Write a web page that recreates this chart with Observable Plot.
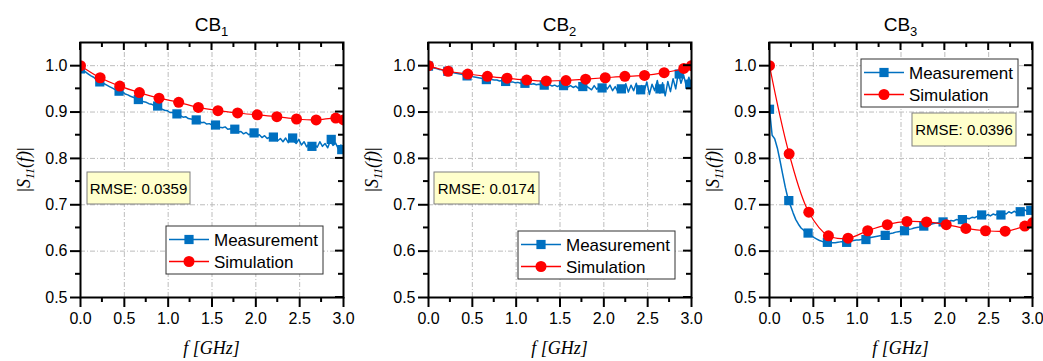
<!DOCTYPE html>
<html><head><meta charset="utf-8">
<script src="https://cdn.jsdelivr.net/npm/d3@7"></script>
<script src="https://cdn.jsdelivr.net/npm/@observablehq/plot@0.6"></script>
<style>
body{margin:0;background:#fff;}
#chart{position:relative;width:1043px;height:361px;overflow:hidden;background:#fff;}
#chart svg{position:absolute;top:0;}
</style></head><body><div id="chart"></div>
<script>
// ---------- data ----------
const panelTitles = ["CB", "CB", "CB"];
const panelSubs = ["1", "2", "3"];
const rmseLabels = ["RMSE: 0.0359", "RMSE: 0.0174", "RMSE: 0.0396"];
const seriesNames = ["Measurement", "Simulation"];
const xTicks = [0, 0.5, 1.0, 1.5, 2.0, 2.5, 3.0];
const xMinorTicks = [0.25, 0.75, 1.25, 1.75, 2.25, 2.75];
const yTicks = [0.5, 0.6, 0.7, 0.8, 0.9, 1.0];
const yMinorTicks = [0.55, 0.65, 0.75, 0.85, 0.95];

// measured trace, sampled every 0.03 GHz from 0 to 3 GHz
const measFreq = d3.range(101).map(i => +(i * 0.03).toFixed(2));
const cb1Meas = [0.994,0.990,0.986,0.982,0.978,0.975,0.970,0.966,0.964,0.961,0.958,0.955,0.952,0.949,0.947,0.945,0.943,0.939,0.937,0.934,
0.932,0.929,0.927,0.926,0.922,0.921,0.918,0.917,0.914,0.913,0.911,0.906,0.904,0.903,0.899,0.899,0.896,0.895,0.892,0.889,
0.890,0.886,0.885,0.884,0.882,0.881,0.877,0.878,0.874,0.875,0.872,0.871,0.872,0.867,0.866,0.868,0.863,0.864,0.860,0.862,
0.857,0.858,0.853,0.856,0.851,0.854,0.855,0.848,0.851,0.845,0.849,0.843,0.846,0.841,0.847,0.838,0.843,0.836,0.844,0.834,
0.846,0.838,0.832,0.841,0.829,0.836,0.825,0.833,0.822,0.830,0.824,0.836,0.826,0.832,0.823,0.838,0.828,0.833,0.821,0.829,0.818];
const cb2Meas = [0.999,0.997,0.995,0.994,0.992,0.991,0.989,0.988,0.987,0.986,0.984,0.983,0.982,0.981,0.980,0.978,0.978,0.976,0.975,0.974,
0.973,0.972,0.971,0.971,0.970,0.969,0.969,0.967,0.968,0.966,0.966,0.965,0.965,0.963,0.964,0.962,0.963,0.961,0.962,0.960,
0.961,0.959,0.960,0.958,0.959,0.957,0.959,0.956,0.958,0.955,0.958,0.956,0.957,0.954,0.957,0.953,0.956,0.951,0.957,0.950,
0.956,0.952,0.948,0.957,0.949,0.955,0.947,0.956,0.950,0.958,0.946,0.955,0.944,0.957,0.948,0.961,0.943,0.958,0.946,0.962,
0.940,0.957,0.944,0.965,0.938,0.960,0.946,0.968,0.941,0.963,0.935,0.966,0.944,0.972,0.950,0.985,0.962,0.980,0.956,0.975,0.954];
const cb3Meas = [0.906,0.850,0.842,0.822,0.795,0.766,0.738,0.714,0.698,0.682,0.668,0.658,0.650,0.645,0.641,0.637,0.633,0.629,0.626,0.623,
0.621,0.620,0.619,0.618,0.618,0.618,0.619,0.620,0.620,0.621,0.621,0.622,0.623,0.624,0.624,0.625,0.626,0.627,0.629,0.630,
0.631,0.632,0.633,0.634,0.635,0.637,0.638,0.639,0.641,0.642,0.643,0.645,0.646,0.647,0.648,0.650,0.651,0.652,0.654,0.655,
0.656,0.657,0.659,0.660,0.661,0.662,0.663,0.664,0.663,0.666,0.665,0.668,0.667,0.669,0.668,0.671,0.670,0.673,0.672,0.675,
0.674,0.678,0.675,0.679,0.676,0.680,0.678,0.682,0.679,0.683,0.680,0.685,0.682,0.686,0.683,0.688,0.684,0.689,0.686,0.691,0.687];

// square markers on the measured trace
const measMarkFreq = [0, 0.22, 0.44, 0.66, 0.88, 1.10, 1.32, 1.54, 1.76, 1.98, 2.20, 2.42, 2.64, 2.86, 2.98];
const cb1MeasMarks = [0.993,0.965,0.945,0.927,0.913,0.896,0.883,0.872,0.863,0.855,0.846,0.844,0.826,0.841,0.819];
const cb2MeasMarks = [0.999,0.988,0.978,0.970,0.966,0.962,0.958,0.957,0.955,0.952,0.950,0.948,0.950,0.982,0.960];
const cb3MeasMarks = [0.906,0.709,0.639,0.619,0.619,0.625,0.634,0.644,0.654,0.663,0.668,0.678,0.678,0.685,0.688];

// simulation points (circles)
const simFreq = [0, 0.224, 0.448, 0.672, 0.896, 1.12, 1.344, 1.568, 1.792, 2.016, 2.24, 2.464, 2.688, 2.912, 3.0];
const cb1Sim = [1.000,0.974,0.956,0.942,0.930,0.921,0.910,0.903,0.898,0.894,0.890,0.885,0.883,0.887,0.883];
const cb2Sim = [1.000,0.988,0.982,0.977,0.973,0.969,0.967,0.968,0.971,0.974,0.977,0.979,0.985,0.994,1.000];
const cb3Sim = [1.000,0.810,0.684,0.633,0.628,0.644,0.657,0.664,0.663,0.657,0.649,0.644,0.643,0.654,0.661];

// ---------- layout / style ----------
const BLUE = "#0070C0", RED = "#FF0000";
const SANS = "'Liberation Sans', Arial, sans-serif";
const SERIF = "'Liberation Serif', 'Times New Roman', serif";
const panels = [
  {left: 0,   meas: cb1Meas, marks: cb1MeasMarks, sim: cb1Sim, legend: {x: 166, y: 226}, rmse: {x: 87, y: 172, w: 103, h: 32}},
  {left: 348, meas: cb2Meas, marks: cb2MeasMarks, sim: cb2Sim, legend: {x: 170, y: 231}, rmse: {x: 86, y: 172, w: 105, h: 32}},
  {left: 689, meas: cb3Meas, marks: cb3MeasMarks, sim: cb3Sim, legend: {x: 172, y: 59},  rmse: {x: 223, y: 113, w: 104, h: 33}}
];
const W = 348, H = 361, ML = 80, MR = 5, MT = 42, MB = 64;

const chart = document.getElementById("chart");
panels.forEach((p, k) => {
  const meas = measFreq.map((f, i) => ({f, v: p.meas[i]}));
  const mk = measMarkFreq.map((f, i) => ({f, v: p.marks[i]}));
  const sim = simFreq.map((f, i) => ({f, v: p.sim[i]}));
  const fmt = d3.format(".1f");
  const svgEl = Plot.plot({
    width: W, height: H, marginLeft: ML, marginRight: MR, marginTop: MT, marginBottom: MB,
    x: {domain: [0, 3]},
    y: {domain: [0.5, 1.05]},
    style: {fontFamily: SANS, fontSize: "16px", color: "black", background: "transparent", overflow: "visible"},
    marks: [
      Plot.gridX(xTicks.slice(1, -1), {stroke: "#bdbdbd", strokeOpacity: 1, strokeDasharray: "5,2,1,2"}),
      Plot.gridY(yTicks.slice(1), {stroke: "#bdbdbd", strokeOpacity: 1, strokeDasharray: "5,2,1,2"}),
      Plot.line(meas, {x: "f", y: "v", stroke: BLUE, strokeWidth: 1.5, clip: true}),
      Plot.dot(mk, {x: "f", y: "v", symbol: "square", r: 5.2, fill: BLUE, clip: true}),
      Plot.line(sim, {x: "f", y: "v", stroke: RED, strokeWidth: 1.2, curve: "catmull-rom", clip: true}),
      Plot.dot(sim, {x: "f", y: "v", r: 5.5, fill: RED, clip: true}),
      Plot.axisX(xTicks, {tickSize: 10, tickPadding: 5, tickFormat: fmt, label: null, fontSize: 16, strokeWidth: 2}),
      Plot.axisY(yTicks, {tickSize: 10, tickPadding: 3, tickFormat: fmt, label: null, fontSize: 16, strokeWidth: 2}),
      Plot.frame({stroke: "black", strokeWidth: 2})
    ]
  });
  svgEl.style.left = p.left + "px";
  const svg = d3.select(svgEl);
  const xs = svgEl.scale("x"), ys = svgEl.scale("y");
  const cx = ML + (W - ML - MR) / 2;
  const bottom = H - MB, right = W - MR;

  // minor ticks (outward) and inward ticks on top/right, from the plot's own scales
  const tg = svg.append("g").attr("stroke", "black").attr("stroke-width", 2).attr("fill", "none");
  const tick = (x1, y1, x2, y2) => tg.append("line").attr("x1", x1).attr("y1", y1).attr("x2", x2).attr("y2", y2);
  xTicks.forEach(v => { const X = xs.apply(v); tick(X, MT, X, MT + 8); });
  xMinorTicks.forEach(v => { const X = xs.apply(v); tick(X, bottom, X, bottom + 5); tick(X, MT, X, MT + 5); });
  yTicks.forEach(v => { const Y = ys.apply(v); tick(right, Y, right - 8, Y); });
  yMinorTicks.forEach(v => { const Y = ys.apply(v); tick(ML, Y, ML - 5, Y); tick(right, Y, right - 5, Y); });

  // title
  const t = svg.append("text").attr("x", cx).attr("y", 31).attr("text-anchor", "middle")
    .attr("font-family", SANS).attr("font-size", 19).attr("fill", "black");
  t.append("tspan").text(panelTitles[k]);
  t.append("tspan").attr("font-size", 13).attr("dy", 5).text(panelSubs[k]);

  // x label
  svg.append("text").attr("x", cx).attr("y", 354).attr("text-anchor", "middle")
    .attr("font-family", SERIF).attr("font-style", "italic").attr("font-size", 18).attr("fill", "black")
    .text("f [GHz]");

  // y label
  const yl = svg.append("text").attr("transform", `translate(${ML - 50},${MT + (H - MT - MB) / 2}) rotate(-90)`)
    .attr("text-anchor", "middle").attr("font-family", SERIF).attr("font-size", 18).attr("fill", "black");
  yl.append("tspan").text("|");
  yl.append("tspan").attr("font-style", "italic").text("S");
  yl.append("tspan").attr("font-style", "italic").attr("font-size", 12).attr("dy", 4).text("11");
  yl.append("tspan").attr("font-style", "italic").attr("dy", -4).text("(f)");
  yl.append("tspan").text("|");

  // RMSE box
  const r = p.rmse;
  svg.append("rect").attr("x", r.x).attr("y", r.y).attr("width", r.w).attr("height", r.h)
    .attr("fill", "#ffffcc").attr("stroke", "#7f7f7f").attr("stroke-width", 1);
  svg.append("text").attr("x", r.x + r.w / 2).attr("y", r.y + r.h / 2 + 5.5).attr("text-anchor", "middle")
    .attr("font-family", SANS).attr("font-size", 15).attr("fill", "black").text(rmseLabels[k]);

  // legend
  const L = p.legend;
  const lg = svg.append("g").attr("transform", `translate(${L.x},${L.y})`);
  lg.append("rect").attr("width", 157).attr("height", 48).attr("fill", "white").attr("stroke", "#333").attr("stroke-width", 1);
  const rows = [{c: BLUE, sym: "square", y: 13.5}, {c: RED, sym: "circle", y: 35.5}];
  rows.forEach((row, j) => {
    lg.append("line").attr("x1", 3).attr("x2", 43).attr("y1", row.y).attr("y2", row.y)
      .attr("stroke", row.c).attr("stroke-width", 1.5);
    if (row.sym === "square") {
      lg.append("rect").attr("x", 23 - 4.6).attr("y", row.y - 4.6).attr("width", 9.2).attr("height", 9.2).attr("fill", row.c);
    } else {
      lg.append("circle").attr("cx", 23).attr("cy", row.y).attr("r", 5.5).attr("fill", row.c);
    }
    lg.append("text").attr("x", 48).attr("y", row.y + 6).attr("text-anchor", "start")
      .attr("font-family", SANS).attr("font-size", 17).attr("fill", "black").text(seriesNames[j]);
  });

  chart.appendChild(svgEl);
});
</script>
</body></html>
